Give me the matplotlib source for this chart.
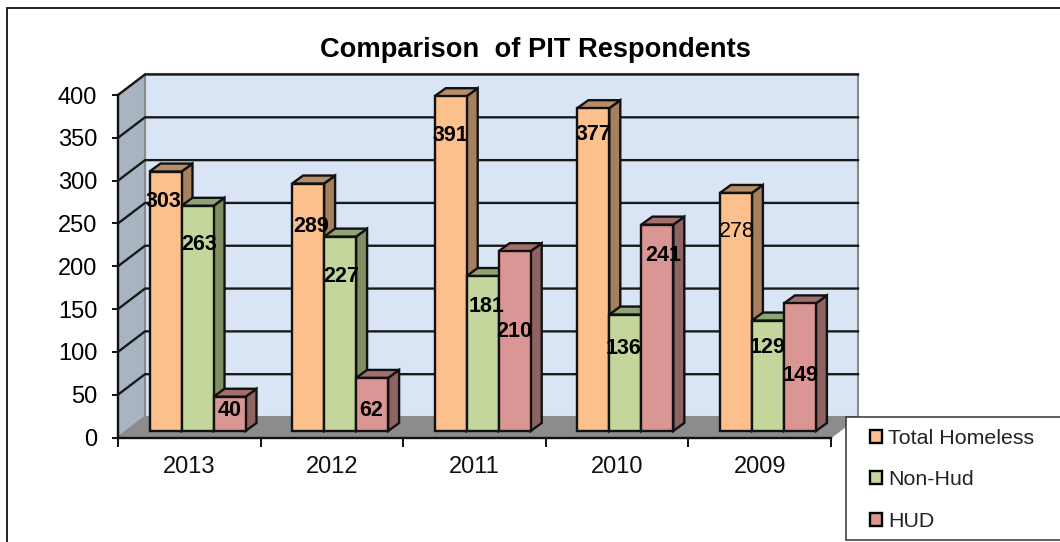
import matplotlib
matplotlib.use("Agg")
import matplotlib.pyplot as plt
from matplotlib.patches import Polygon, Patch, Rectangle

plt.rcParams['font.family'] = ['Liberation Sans', 'DejaVu Sans']

years = ['2013', '2012', '2011', '2010', '2009']
total_homeless = [303, 289, 391, 377, 278]
non_hud = [263, 227, 181, 136, 129]
hud = [40, 62, 210, 241, 149]
y_ticks = [0, 50, 100, 150, 200, 250, 300, 350, 400]
series_names = ['Total Homeless', 'Non-Hud', 'HUD']
title = 'Comparison  of PIT Respondents'

# styling
W, H = 1060, 542
PX_L, PX_R, PX_T, PX_B = 118, 831, 95, 437.5
fig = plt.figure(figsize=(W / 100, H / 100), dpi=100, facecolor='white')
ax = fig.add_axes([PX_L / W, 1 - PX_B / H, (PX_R - PX_L) / W, (PX_B - PX_T) / H])
ax.set_xlim(0, len(years))
ax.set_ylim(0, 400)
ax.patch.set_visible(False)

xpx = len(years) / (PX_R - PX_L)
ypx = 400 / (PX_B - PX_T)
WALL_DX, WALL_DY = 27 * xpx, 20.5 * ypx
BAR_DX, BAR_DY = 11 * xpx, 8 * ypx
BAR_W = 32 * xpx
BAR_START = 31.5 * xpx
BASE = 6.5 * ypx
LW = 1.7
n = len(years)

# walls and floor
ax.add_patch(Polygon([(WALL_DX, WALL_DY), (n + WALL_DX, WALL_DY), (n + WALL_DX, 400 + WALL_DY), (WALL_DX, 400 + WALL_DY)],
                     closed=True, fc='#D9E4F5', ec='#8A8A8A', lw=1.5, clip_on=False, zorder=1))
ax.add_patch(Polygon([(0, 0), (WALL_DX, WALL_DY), (WALL_DX, 400 + WALL_DY), (0, 400)],
                     closed=True, fc='#A9B4C2', ec='#8A8A8A', lw=1.5, clip_on=False, zorder=1))
ax.add_patch(Polygon([(0, 0), (n, 0), (n + WALL_DX, WALL_DY), (WALL_DX, WALL_DY)],
                     closed=True, fc='#8C8C8C', ec='#8C8C8C', lw=1, clip_on=False, zorder=1.5))
for v in y_ticks[1:]:
    ax.plot([0, WALL_DX, n + WALL_DX], [v, v + WALL_DY, v + WALL_DY], color='#1A1A1A', lw=LW,
            clip_on=False, zorder=2, solid_joinstyle='miter')

# bars with their depth faces
colors = [('#FCC08C', '#A67F5D', '#B58D68'),
          ('#C3D69B', '#7F8F62', '#8FA374'),
          ('#D99694', '#8E6362', '#A36E6C')]
series = [total_homeless, non_hud, hud]
z = 3
for c in range(n):
    for s, values in enumerate(series):
        x0 = c + BAR_START + s * BAR_W
        top = values[c] + BASE
        front, side, lid = colors[s]
        ax.add_patch(Polygon([(x0 + BAR_W, BASE), (x0 + BAR_W + BAR_DX, BASE + BAR_DY),
                              (x0 + BAR_W + BAR_DX, top + BAR_DY), (x0 + BAR_W, top)],
                             closed=True, fc=side, ec='#111111', lw=LW, clip_on=False, zorder=z))
        ax.add_patch(Polygon([(x0, top), (x0 + BAR_W, top), (x0 + BAR_W + BAR_DX, top + BAR_DY),
                              (x0 + BAR_DX, top + BAR_DY)],
                             closed=True, fc=lid, ec='#111111', lw=LW, clip_on=False, zorder=z))
        ax.bar(x0, values[c], BAR_W, bottom=BASE, align='edge', color=front, edgecolor='#111111',
               linewidth=LW, clip_on=False, zorder=z + 0.5)
        z += 1

# data labels (hand-placed in the original): pixel offset from the bar's top centre
label_dy = [[30, 43, 39, 26, 39], [39, 40, 30, 34, 27], [14, 33, 80, 31, 72]]
label_dx = [[-2, 3, 0, 0, 1], [2, 1, 4, -2, 0], [0, -1, 0, 6, 1]]
for s, values in enumerate(series):
    for c in range(n):
        xc = c + BAR_START + (s + 0.5) * BAR_W
        plain = values[c] == 278
        ax.annotate(str(values[c]), (xc, values[c] + BASE),
                    xytext=(label_dx[s][c], -label_dy[s][c]), textcoords='offset pixels',
                    ha='center', va='center', fontsize=15.5, color='black',
                    fontweight='normal' if plain else 'bold', zorder=100, annotation_clip=False)

# axes, ticks
for sp in ('top', 'right'):
    ax.spines[sp].set_visible(False)
for sp in ('left', 'bottom'):
    ax.spines[sp].set_linewidth(1.7)
    ax.spines[sp].set_color('#111111')
    ax.spines[sp].set_zorder(2.5)
ax.set_yticks(y_ticks)
ax.set_yticklabels([str(v) for v in y_ticks])
ax.set_xticks(range(n + 1))
ax.set_xticklabels([])
ax.set_xticks([i + 0.5 for i in range(n)], labels=years, minor=True)
ax.tick_params(axis='y', length=4.5, width=1.4, pad=10.5, labelsize=17, color='#111111', labelcolor='black')
ax.tick_params(axis='x', which='major', length=6.5, width=1.4, color='#111111')
ax.tick_params(axis='x', which='minor', length=0, pad=13.5, labelsize=17, labelcolor='#111111')

fig.text(535 / W, 1 - 50 / H, title, ha='center', va='center', fontsize=19.6, fontweight='bold', color='black')

# outer frame and legend box
fig.add_artist(Rectangle((6.5 / W, -0.05), 1.1, 1.05 - 7.5 / H, transform=fig.transFigure,
                         fc='none', ec='#111111', lw=1.3, zorder=-1))
ax.add_patch(Rectangle((846 / W, 1 - 540 / H), 220 / W, 123 / H, transform=fig.transFigure,
                       fc='white', ec='#333333', lw=1.1, clip_on=False, zorder=200))
handles = [Patch(fc=colors[i][0], ec='black', lw=1.7) for i in range(3)]
leg = ax.legend(handles, series_names, loc='upper left', bbox_to_anchor=(870 / W, 1 - 429 / H),
                bbox_transform=fig.transFigure, frameon=False, fontsize=15.4, borderpad=0, borderaxespad=0,
                handlelength=0.55, handleheight=0.55, handletextpad=0.3, labelspacing=1.05,
                labelcolor='#222222')
leg.set_zorder(201)

fig.savefig('out.png', dpi=100)
